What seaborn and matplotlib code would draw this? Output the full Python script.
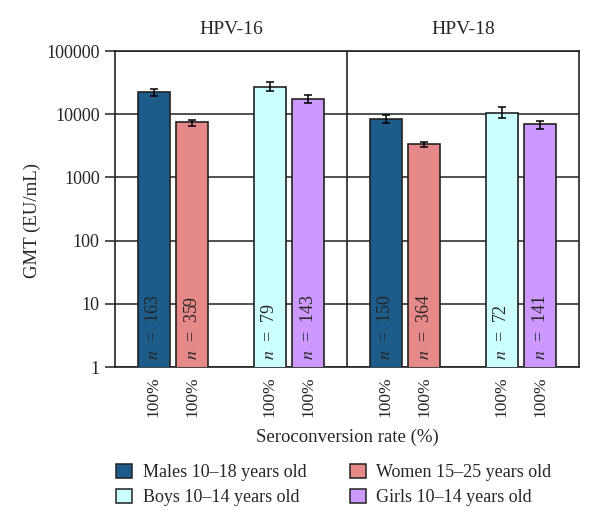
import numpy as np
import pandas as pd
import matplotlib
matplotlib.use("Agg")
import matplotlib.pyplot as plt
import seaborn as sns
from matplotlib.patches import Patch

sns.set_style("white")
plt.rcParams["font.family"] = ["Liberation Serif", "DejaVu Serif"]
plt.rcParams["mathtext.fontset"] = "stix"
plt.rcParams["font.size"] = 12

# data
groups = ["Males 10–18 years old", "Women 15–25 years old",
          "Boys 10–14 years old", "Girls 10–14 years old"]
colors = ["#1d5b88", "#e68a89", "#ccffff", "#cc99ff"]

hpv16_gmt = [22500, 7400, 27200, 17200]
hpv16_lo = [19600, 6500, 23300, 14900]
hpv16_hi = [25300, 8100, 32300, 19900]
hpv16_n = [163, 359, 79, 143]

hpv18_gmt = [8400, 3340, 10600, 6900]
hpv18_lo = [7260, 3030, 8610, 5840]
hpv18_hi = [9710, 3590, 12850, 7890]
hpv18_n = [150, 364, 72, 141]

serocon = ["100%"] * 8
yticks = [1, 10, 100, 1000, 10000, 100000]

# slot layout: pairs of bars with an empty slot between them
slots = [0, 1, 3, 4, 6, 7, 9, 10]

df = pd.DataFrame({
    "pos": slots,
    "gmt": hpv16_gmt + hpv18_gmt,
    "lo": hpv16_lo + hpv18_lo,
    "hi": hpv16_hi + hpv18_hi,
    "n": hpv16_n + hpv18_n,
    "group": groups * 2,
})

fig = plt.figure(figsize=(6, 5.28), dpi=100)
ax = fig.add_axes([115 / 600, 1 - 367 / 528, 464 / 600, 316 / 528])

sns.barplot(df, x="pos", y="gmt", hue="group", hue_order=groups,
            palette=colors, native_scale=True, dodge=False, width=0.83,
            errorbar=None, edgecolor="#222222", linewidth=1.2,
            legend=False, ax=ax, zorder=3, saturation=1)
ax.set_yscale("log")

ax.errorbar(df["pos"], df["gmt"],
            yerr=[df["gmt"] - df["lo"], df["hi"] - df["gmt"]],
            fmt="none", ecolor="black", elinewidth=1.1, capsize=2.8,
            capthick=1.1, zorder=4)

for _, r in df.iterrows():
    ax.text(r["pos"], 1.3, f"$n$  =  {r['n']}", rotation=90,
            ha="center", va="bottom", fontsize=13, zorder=5)

ax.set_xlim(-1, 11)
ax.set_ylim(1, 100000)
ax.set_yticks(yticks)
ax.set_yticklabels([str(t) for t in yticks])
ax.yaxis.set_minor_locator(matplotlib.ticker.NullLocator())
ax.set_xticks(slots)
ax.set_xticklabels(serocon, rotation=90)
ax.tick_params(axis="x", length=0, pad=7, labelsize=12.5)
ax.tick_params(axis="y", left=True, length=7, width=1.1, pad=4,
               labelsize=13, color="#222222")
ax.yaxis.grid(True, color="#222222", linewidth=1.1)
ax.set_axisbelow(True)
ax.axvline(5, color="#222222", linewidth=1.2, zorder=2)
for s in ax.spines.values():
    s.set_visible(True)
    s.set_color("#222222")
    s.set_linewidth(1.2)

ax.set_xlabel("Seroconversion rate (%)", fontsize=13.5)
ax.xaxis.set_label_coords(0.5, -(429 - 367) / 316)
ax.set_ylabel("GMT (EU/mL)", fontsize=13.5)
ax.yaxis.set_label_coords(-(115 - 41) / 464, (367 - 220) / 316)

fig.text(231 / 600, 1 - 30 / 528, "HPV-16", ha="center", va="center", fontsize=14)
fig.text(463 / 600, 1 - 30 / 528, "HPV-18", ha="center", va="center", fontsize=14)

handles = [Patch(facecolor=c, edgecolor="#222222", linewidth=1.1) for c in colors]
order = [0, 2, 1, 3]
fig.legend([handles[i] for i in order], [groups[i] for i in order],
           ncol=2, loc="center left", bbox_to_anchor=(116 / 600, 1 - 485 / 528),
           frameon=False, fontsize=13, handlelength=0.88, handleheight=0.82,
           columnspacing=2.4, labelspacing=0.42, handletextpad=0.6,
           borderpad=0, borderaxespad=0)

fig.savefig("out.png", dpi=100)
